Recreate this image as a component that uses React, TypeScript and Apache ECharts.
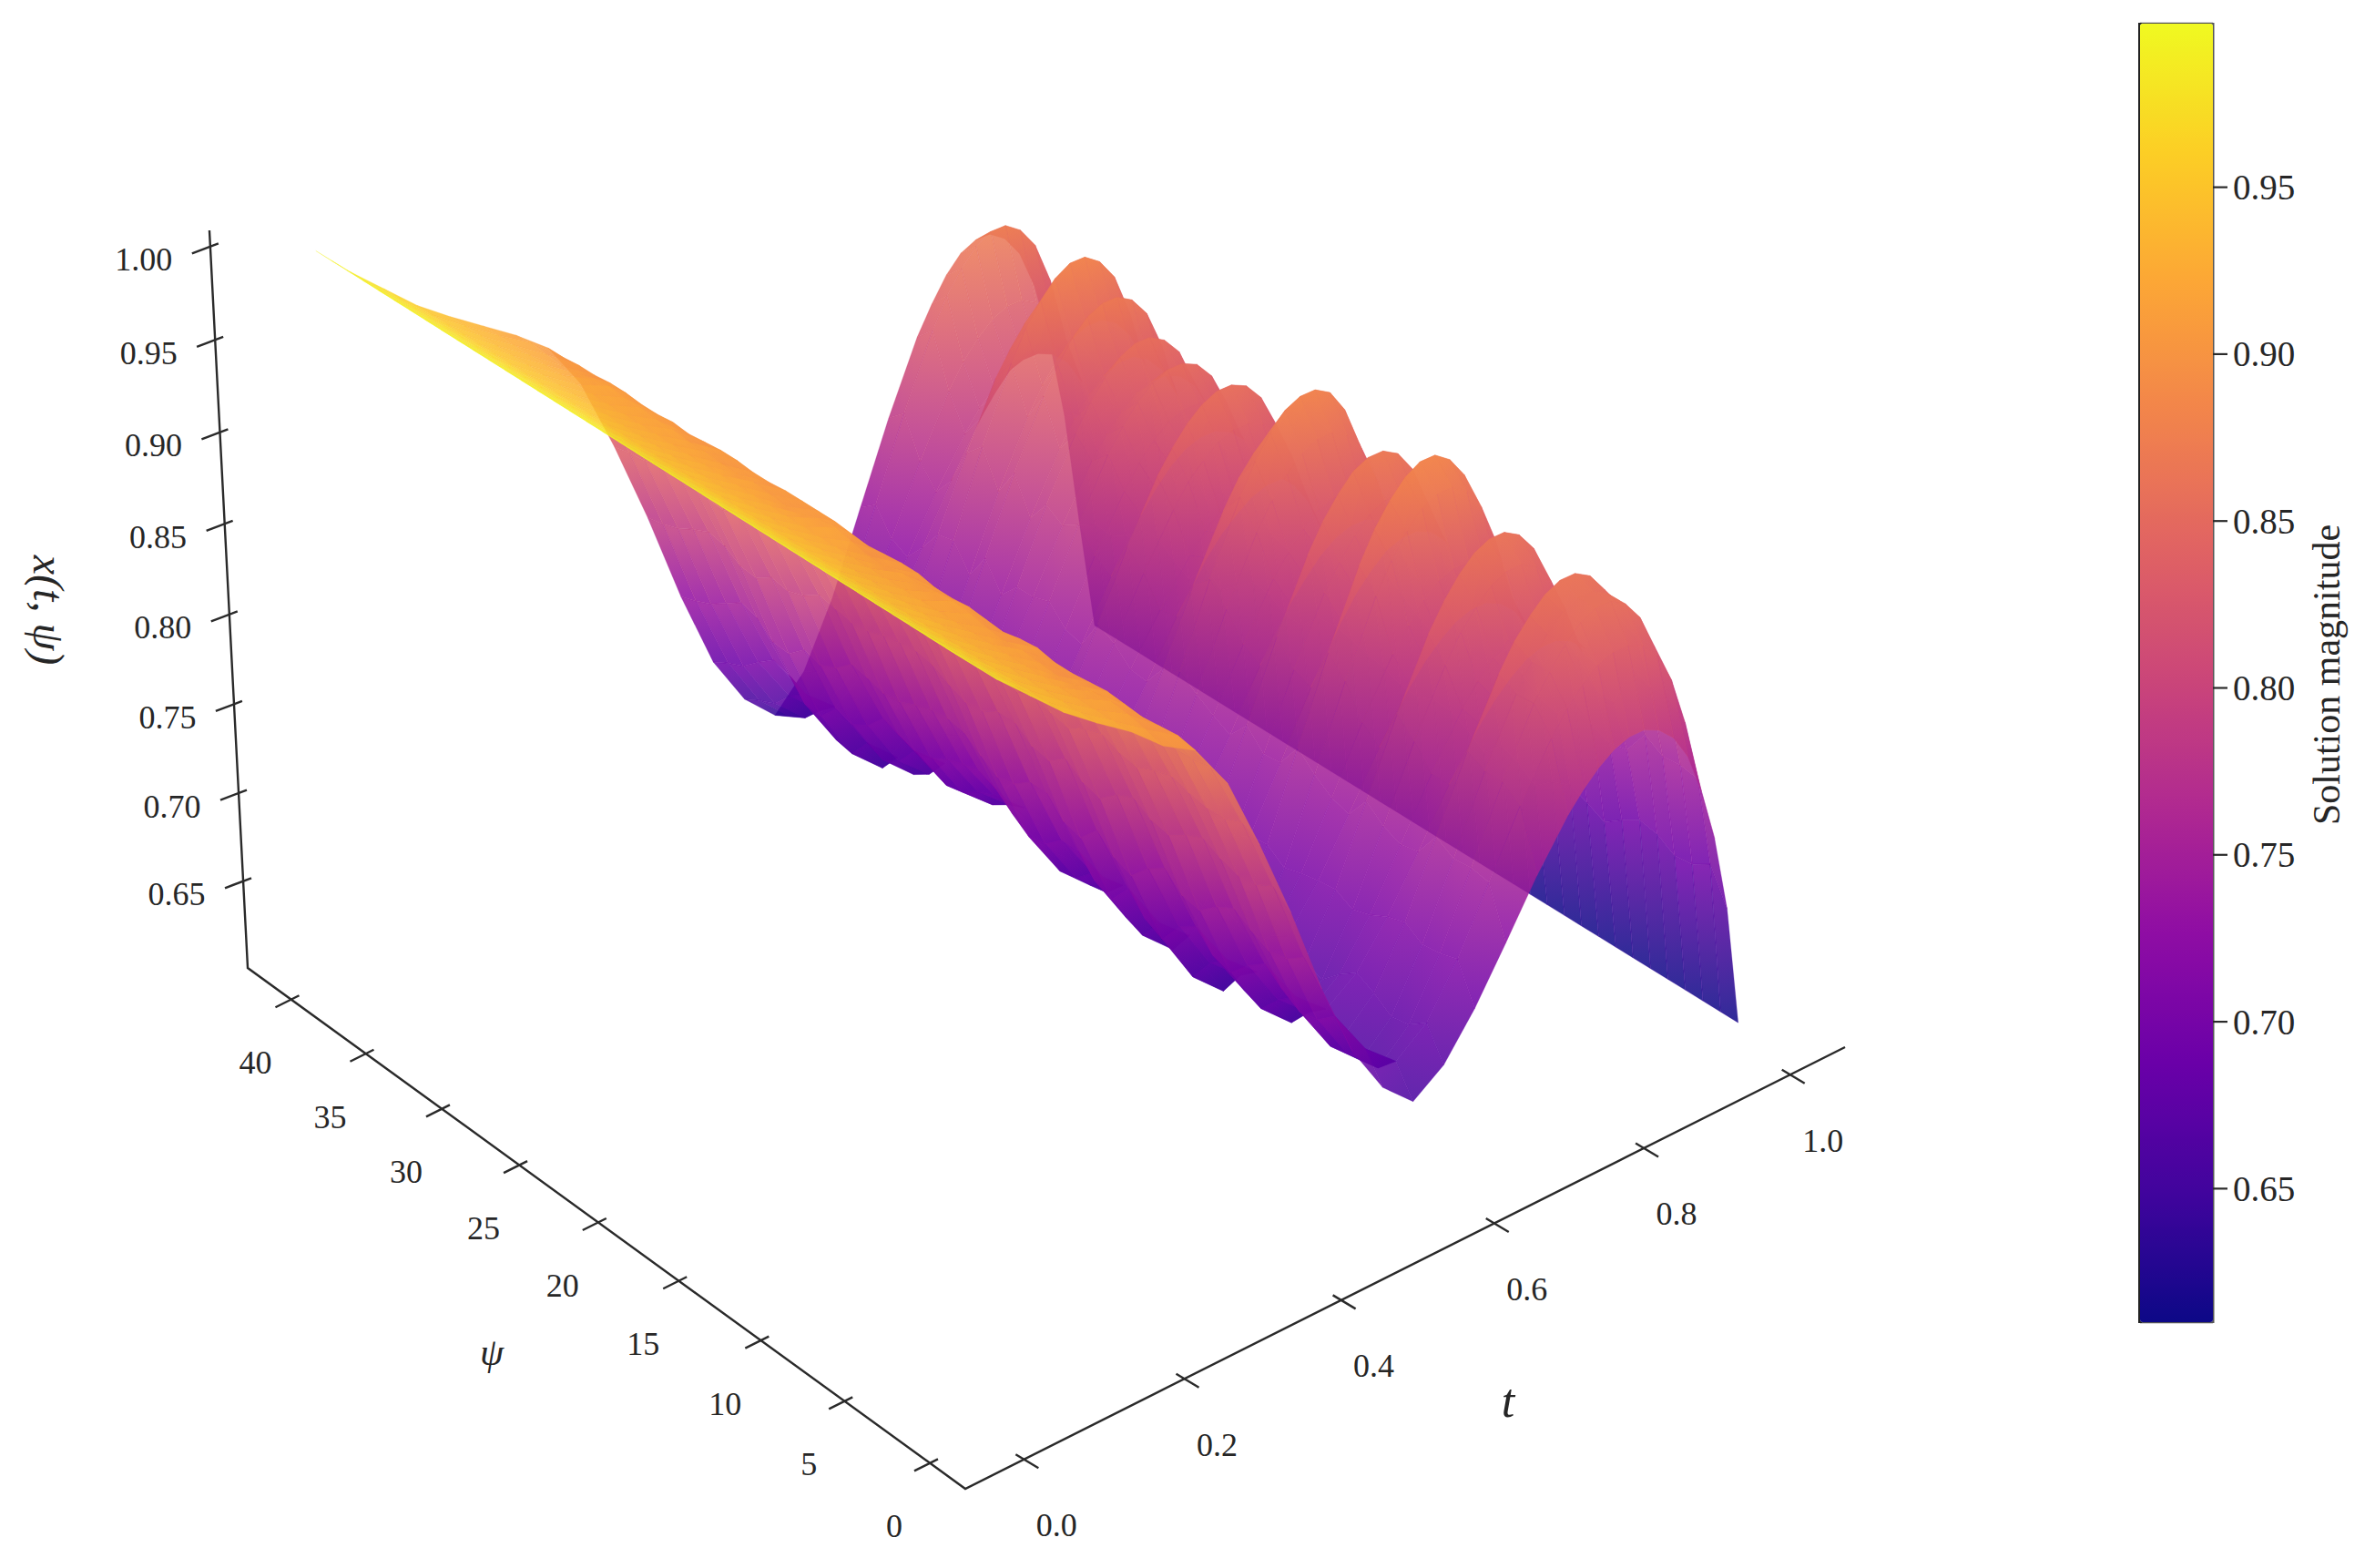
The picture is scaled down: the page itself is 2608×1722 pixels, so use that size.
import { useEffect, useRef } from 'react'
import * as echarts from 'echarts'

// box limits of the 3D axes
const tLimits = [-0.073, 1.075]
const psiLimits = [-2, 43]
const zLimits = [0.5995, 1.008]

const tTicks = [0, 0.2, 0.4, 0.6, 0.8, 1.0]
const psiTicks = [0, 5, 10, 15, 20, 25, 30, 35, 40]
const zTicks = [0.65, 0.7, 0.75, 0.8, 0.85, 0.9, 0.95, 1.0]
const barTicks = [0.65, 0.7, 0.75, 0.8, 0.85, 0.9, 0.95]
const barRange = [0.61, 0.999]

const plasma = ['#0d0887', '#41049d', '#6a00a8', '#8f0da4', '#b12a90', '#cc4778', '#e16462', '#f2844b', '#fca636', '#fcce25', '#f0f921']

const tGrid = [0, 0.04, 0.08, 0.12, 0.16, 0.2, 0.24, 0.28, 0.32, 0.36, 0.4, 0.44, 0.48, 0.52, 0.56, 0.6, 0.64, 0.68, 0.72, 0.76, 0.78, 0.8, 0.82, 0.84, 0.86, 0.88, 0.9, 0.92, 0.94, 0.96, 0.98, 1.0]
const psiRows = [1, 2, 3, 4, 5, 6, 7, 8, 9, 10, 11, 12, 13, 14, 15, 16, 17, 18, 19, 20, 21, 22, 23, 24, 25, 26, 27, 28, 29, 30, 31, 32, 33, 34, 35, 36, 37, 38, 39, 40]

// x(t, psi), one row per psi
const surfaceZ = [
  [1, .982, .966, .950, .937, .925, .910, .900, .875, .835, .791, .742, .700, .672, .656, .668, .691, .719, .748, .773, .783, .791, .797, .800, .800, .796, .788, .774, .751, .721, .678, .61],
  [1, .982, .966, .950, .937, .925, .913, .902, .878, .841, .799, .753, .713, .687, .672, .685, .712, .746, .780, .809, .821, .830, .837, .840, .840, .836, .827, .810, .783, .748, .697, .61],
  [1, .982, .966, .950, .937, .925, .915, .901, .876, .837, .794, .746, .705, .678, .662, .678, .709, .748, .787, .822, .835, .846, .854, .858, .858, .853, .842, .823, .791, .750, .691, .61],
  [1, .982, .966, .950, .937, .925, .916, .900, .876, .837, .793, .744, .703, .676, .660, .676, .708, .747, .787, .821, .835, .846, .854, .858, .858, .853, .842, .822, .791, .749, .690, .61],
  [1, .982, .966, .950, .937, .925, .915, .901, .877, .839, .796, .749, .709, .682, .667, .683, .714, .753, .792, .826, .840, .850, .858, .862, .862, .857, .846, .827, .796, .755, .696, .61],
  [1, .982, .966, .950, .937, .925, .913, .902, .879, .842, .801, .755, .717, .691, .676, .688, .711, .739, .768, .793, .803, .811, .817, .820, .820, .816, .808, .794, .771, .741, .698, .61],
  [1, .982, .966, .950, .937, .925, .912, .901, .877, .839, .797, .750, .710, .683, .668, .681, .706, .737, .768, .796, .807, .816, .822, .825, .825, .821, .812, .797, .772, .739, .692, .61],
  [1, .982, .966, .950, .937, .925, .913, .900, .875, .835, .791, .742, .700, .672, .656, .672, .703, .741, .780, .814, .828, .838, .846, .850, .850, .845, .834, .815, .784, .743, .685, .61],
  [1, .982, .966, .950, .937, .925, .914, .900, .876, .837, .793, .744, .703, .676, .660, .676, .708, .749, .789, .825, .839, .850, .858, .862, .862, .857, .846, .826, .793, .751, .690, .61],
  [1, .982, .966, .950, .937, .925, .913, .902, .878, .841, .799, .753, .713, .687, .672, .684, .707, .736, .765, .791, .801, .809, .815, .818, .818, .814, .806, .792, .768, .738, .694, .61],
  [1, .982, .966, .950, .937, .925, .914, .901, .877, .838, .795, .747, .707, .679, .664, .678, .705, .739, .773, .803, .815, .825, .832, .835, .835, .831, .821, .804, .777, .741, .690, .61],
  [1, .982, .966, .950, .937, .925, .916, .899, .874, .833, .787, .737, .694, .665, .649, .667, .702, .746, .790, .829, .845, .857, .866, .870, .870, .864, .852, .830, .795, .748, .682, .61],
  [1, .982, .966, .950, .937, .925, .917, .900, .875, .835, .790, .741, .699, .671, .655, .673, .709, .755, .800, .840, .856, .868, .877, .882, .882, .876, .864, .841, .805, .757, .689, .61],
  [1, .982, .966, .950, .937, .925, .916, .901, .877, .839, .797, .750, .710, .683, .668, .681, .708, .741, .775, .804, .816, .825, .832, .835, .835, .831, .822, .805, .778, .743, .693, .61],
  [1, .982, .966, .950, .937, .925, .915, .900, .875, .835, .790, .740, .698, .670, .654, .670, .701, .740, .779, .814, .827, .838, .846, .850, .850, .845, .834, .815, .783, .742, .683, .61],
  [1, .982, .966, .950, .937, .925, .915, .900, .876, .836, .792, .743, .702, .674, .658, .675, .708, .750, .792, .829, .844, .855, .864, .868, .868, .863, .851, .830, .797, .753, .690, .61],
  [1, .982, .966, .950, .937, .925, .913, .902, .878, .841, .799, .753, .713, .687, .672, .684, .709, .739, .770, .797, .807, .816, .822, .825, .825, .821, .813, .797, .773, .741, .695, .61],
  [1, .982, .966, .950, .937, .925, .913, .902, .878, .841, .799, .753, .713, .687, .672, .685, .711, .744, .776, .805, .816, .825, .832, .835, .835, .831, .822, .806, .780, .745, .696, .61],
  [1, .982, .966, .950, .937, .925, .915, .901, .876, .837, .794, .746, .705, .678, .662, .678, .710, .750, .790, .825, .839, .850, .858, .862, .862, .857, .846, .826, .794, .752, .692, .61],
  [1, .982, .966, .950, .937, .925, .917, .900, .876, .837, .793, .744, .703, .676, .660, .678, .713, .757, .801, .839, .855, .867, .876, .880, .880, .875, .862, .840, .805, .759, .693, .61],
  [1, .982, .966, .950, .937, .925, .916, .901, .877, .839, .797, .750, .710, .683, .668, .684, .715, .753, .792, .826, .840, .850, .858, .862, .862, .857, .846, .827, .796, .755, .697, .61],
  [1, .982, .966, .950, .937, .925, .913, .902, .879, .843, .802, .757, .718, .693, .678, .689, .712, .740, .769, .794, .804, .811, .817, .820, .820, .816, .809, .794, .772, .742, .699, .61],
  [1, .982, .966, .950, .937, .925, .912, .902, .880, .844, .804, .759, .722, .696, .682, .693, .714, .741, .767, .790, .800, .807, .812, .815, .815, .812, .804, .791, .770, .742, .702, .61],
  [1, .982, .966, .950, .937, .925, .913, .902, .880, .843, .803, .758, .720, .695, .680, .693, .718, .750, .782, .810, .822, .830, .837, .840, .840, .836, .827, .811, .786, .752, .704, .61],
  [1, .982, .966, .950, .937, .925, .914, .902, .879, .842, .801, .755, .717, .691, .676, .690, .719, .755, .791, .823, .835, .845, .852, .856, .856, .852, .842, .824, .795, .757, .703, .61],
  [1, .982, .966, .950, .937, .925, .913, .901, .878, .840, .798, .751, .712, .685, .670, .682, .707, .738, .769, .796, .807, .816, .822, .825, .825, .821, .813, .797, .772, .740, .693, .61],
  [1, .982, .966, .950, .937, .925, .913, .901, .877, .839, .797, .750, .710, .683, .668, .681, .708, .741, .775, .804, .816, .825, .832, .835, .835, .831, .822, .805, .778, .743, .693, .61],
  [1, .982, .966, .950, .937, .925, .914, .902, .878, .841, .799, .753, .713, .687, .672, .686, .715, .751, .787, .819, .831, .841, .848, .852, .852, .848, .838, .820, .791, .753, .699, .61],
  [1, .982, .966, .950, .937, .925, .914, .902, .879, .842, .801, .755, .717, .691, .676, .689, .715, .748, .781, .810, .821, .830, .837, .840, .840, .836, .827, .810, .784, .750, .701, .61],
  [1, .982, .966, .950, .937, .925, .915, .901, .877, .838, .795, .747, .707, .679, .664, .679, .710, .748, .787, .820, .834, .844, .852, .856, .856, .851, .841, .821, .791, .750, .693, .61],
  [1, .982, .966, .950, .937, .925, .915, .900, .876, .836, .792, .743, .702, .674, .658, .673, .702, .738, .774, .806, .819, .829, .836, .840, .840, .835, .825, .807, .778, .740, .685, .61],
  [1, .982, .966, .950, .937, .925, .916, .901, .876, .837, .794, .746, .705, .678, .662, .678, .711, .753, .794, .830, .844, .856, .864, .868, .868, .863, .852, .831, .798, .755, .693, .61],
  [1, .982, .966, .950, .937, .925, .916, .900, .874, .833, .788, .738, .695, .666, .650, .666, .698, .738, .778, .813, .827, .838, .846, .850, .850, .845, .834, .814, .782, .740, .680, .61],
  [1, .982, .966, .950, .937, .925, .917, .900, .874, .834, .789, .739, .696, .668, .652, .670, .707, .752, .798, .838, .854, .866, .875, .880, .880, .874, .862, .839, .802, .755, .686, .61],
  [1, .982, .966, .950, .937, .925, .915, .901, .877, .838, .795, .747, .707, .679, .664, .680, .711, .750, .789, .824, .837, .848, .856, .860, .860, .855, .844, .825, .793, .752, .693, .61],
  [1, .982, .966, .950, .937, .925, .913, .901, .877, .839, .797, .750, .710, .683, .668, .681, .706, .737, .768, .796, .807, .816, .822, .825, .825, .821, .812, .797, .772, .739, .692, .61],
  [1, .982, .966, .950, .937, .925, .912, .900, .876, .837, .793, .744, .703, .676, .660, .672, .696, .726, .756, .782, .793, .801, .807, .810, .810, .806, .798, .783, .759, .728, .683, .61],
  [1, .982, .966, .950, .937, .925, .913, .900, .874, .833, .788, .738, .695, .666, .650, .665, .694, .731, .768, .801, .814, .824, .831, .835, .835, .830, .820, .802, .772, .733, .678, .61],
  [1, .982, .966, .950, .937, .925, .914, .899, .873, .832, .785, .734, .691, .662, .645, .663, .699, .745, .790, .830, .846, .858, .867, .872, .872, .866, .854, .831, .795, .747, .679, .61],
  [1, .982, .966, .950, .937, .925, .913, .899, .872, .830, .783, .731, .686, .657, .640, .658, .693, .738, .782, .821, .836, .849, .858, .862, .862, .856, .844, .822, .787, .740, .673, .61],
]

const SERIF = '"Liberation Serif", "Times New Roman", serif'

// Perspective map of the box: normalised a, b, c to page pixels, fitted on the axis corners
function perspective(a: number, b: number, c: number) {
  const w = 1 + 0.0685 * a + 0.09 * b - 0.042 * c
  return [
    (1060 + 1104.8 * a - 763.5 * b - 55.5 * c) / w,
    (1635 - 406.2 * a - 476.3 * b - 893.6 * c) / w,
    w,
  ]
}

function norm(t: number, psi: number, z: number) {
  return [
    (t - tLimits[0]) / (tLimits[1] - tLimits[0]),
    (psi - psiLimits[0]) / (psiLimits[1] - psiLimits[0]),
    (z - zLimits[0]) / (zLimits[1] - zLimits[0]),
  ]
}

function project(t: number, psi: number, z: number) {
  const [a, b, c] = norm(t, psi, z)
  return perspective(a, b, c)
}

function plasmaAt(z: number) {
  const f = (z - barRange[0]) / (barRange[1] - barRange[0])
  return echarts.color.lerp(Math.min(1, Math.max(0, f)), plasma) as string
}

// patches, far ones first
function buildPatches() {
  const items: Array<{ value: number[]; depth: number }> = []
  for (let i = 0; i < psiRows.length - 1; i++) {
    for (let j = 0; j < tGrid.length - 1; j++) {
      const mean = (surfaceZ[i][j] + surfaceZ[i][j + 1] + surfaceZ[i + 1][j] + surfaceZ[i + 1][j + 1]) / 4
      const depth = project((tGrid[j] + tGrid[j + 1]) / 2, (psiRows[i] + psiRows[i + 1]) / 2, mean)[2]
      items.push({ value: [i, j, mean], depth })
    }
  }
  items.sort((p, q) => q.depth - p.depth)
  return items.map((p) => p.value)
}

function renderPatch(_params: unknown, api: any) {
  const i = api.value(0)
  const j = api.value(1)
  const cells = [[i, j], [i, j + 1], [i + 1, j + 1], [i + 1, j]]
  const points = cells.map(([r, k]) => {
    const p = project(tGrid[k], psiRows[r], surfaceZ[r][k])
    return api.coord([p[0], p[1]])
  })
  const heights = cells.map(([r, k]) => surfaceZ[r][k])
  const low = heights.indexOf(Math.min(...heights))
  const high = heights.indexOf(Math.max(...heights))
  // shade from the lowest corner to the highest one
  const fill =
    heights[high] - heights[low] < 0.002
      ? api.visual('color')
      : new echarts.graphic.LinearGradient(
          points[low][0],
          points[low][1],
          points[high][0],
          points[high][1],
          [
            { offset: 0, color: plasmaAt(heights[low]) },
            { offset: 1, color: plasmaAt(heights[high]) },
          ],
          true,
        )
  return {
    type: 'polygon',
    shape: { points },
    style: { fill, stroke: api.visual('color'), lineWidth: 0.3, opacity: 0.86 },
    silent: true,
  }
}

function renderFrame(_params: unknown, api: any) {
  const children: any[] = []
  const pt = (a: number, b: number, c: number) => {
    const p = perspective(a, b, c)
    return api.coord([p[0], p[1]])
  }
  const seg = (x1: number, y1: number, x2: number, y2: number, width = 2.4, color = '#2a2a2a') => {
    children.push({ type: 'line', shape: { x1, y1, x2, y2 }, style: { stroke: color, lineWidth: width } })
  }
  const label = (text: string, x: number, y: number, size: number, rotation = 0, fontStyle = 'normal') => {
    children.push({
      type: 'text',
      x,
      y,
      rotation,
      style: { text, fontSize: size, fontFamily: SERIF, fontStyle, fill: '#262626', align: 'center', verticalAlign: 'middle' },
    })
  }

  // box edges
  const corners = [pt(1, 0, 0), pt(0, 0, 0), pt(0, 1, 0), pt(0, 1, 1)]
  children.push({ type: 'polyline', shape: { points: corners }, style: { stroke: '#2a2a2a', lineWidth: 2.4, fill: 'none' } })

  tTicks.forEach((v) => {
    const [x, y] = pt(norm(v, 0, 0)[0], 0, 0)
    seg(x - 10, y - 5, x + 15, y + 10)
    label(v.toFixed(1), x + 35, y + 73, 36)
  })
  psiTicks.forEach((v) => {
    const [x, y] = pt(0, norm(0, v, 0)[1], 0)
    seg(x - 18, y + 8, x + 8, y - 5)
    label(String(v), x - 40, y + 69, 36)
  })
  zTicks.forEach((v) => {
    const [x, y] = pt(0, 1, norm(0, 0, v)[2])
    seg(x - 20, y + 9, x + 9, y - 2)
    label(v.toFixed(2), x - 73, y + 16, 36)
  })

  label('t', 1656, 1538, 52, 0, 'italic')
  label('ψ', 540, 1485, 42, 0, 'italic')
  label('x(t, ψ)', 53, 670, 48, -Math.PI / 2, 'italic')

  // colour bar frame, ticks and labels
  const barTop = 26
  const barBottom = 1452
  const barLeft = 2350
  const barRight = 2430
  seg(barLeft, barTop, barRight, barTop, 2.5, '#555')
  seg(barLeft, barBottom, barRight, barBottom, 2.5, '#555')
  seg(barLeft, barTop - 1, barLeft, barBottom + 1, 4, '#222')
  seg(barRight, barTop - 1, barRight, barBottom + 1, 3, '#555')
  barTicks.forEach((v) => {
    const y = barTop + ((barRange[1] - v) / (barRange[1] - barRange[0])) * (barBottom - barTop)
    seg(barRight, y, barRight + 16, y, 2.2)
    label(v.toFixed(2), 2486, y, 39)
  })
  label('Solution magnitude', 2555, 741, 42, Math.PI / 2)

  return { type: 'group', children }
}

export default function App() {
  const containerRef = useRef<HTMLDivElement>(null)

  useEffect(() => {
    if (!containerRef.current) return
    document.body.style.margin = '0'

    const chart = echarts.init(containerRef.current, null, { renderer: 'svg' })

    chart.setOption({
      animation: false,
      backgroundColor: '#ffffff',
      grid: { left: 0, right: 0, top: 0, bottom: 0 },
      xAxis: { type: 'value', min: 0, max: 2608, show: false },
      yAxis: { type: 'value', min: 0, max: 1722, inverse: true, show: false },
      visualMap: {
        type: 'continuous',
        seriesIndex: 0,
        dimension: 2,
        min: barRange[0],
        max: barRange[1],
        left: 2350,
        top: 26,
        itemWidth: 80,
        itemHeight: 1426,
        padding: 0,
        calculable: false,
        hoverLink: false,
        realtime: false,
        inRange: { color: plasma },
      },
      series: [
        {
          type: 'custom',
          coordinateSystem: 'cartesian2d',
          clip: false,
          silent: true,
          progressive: 0,
          data: buildPatches(),
          renderItem: renderPatch,
          z: 2,
        },
        {
          type: 'custom',
          coordinateSystem: 'cartesian2d',
          clip: false,
          silent: true,
          data: [[0, 0]],
          renderItem: renderFrame,
          z: 3,
        },
      ],
    })

    return () => {
      chart.dispose()
    }
  }, [])

  return <div ref={containerRef} style={{ width: 2608, height: 1722 }} />
}
